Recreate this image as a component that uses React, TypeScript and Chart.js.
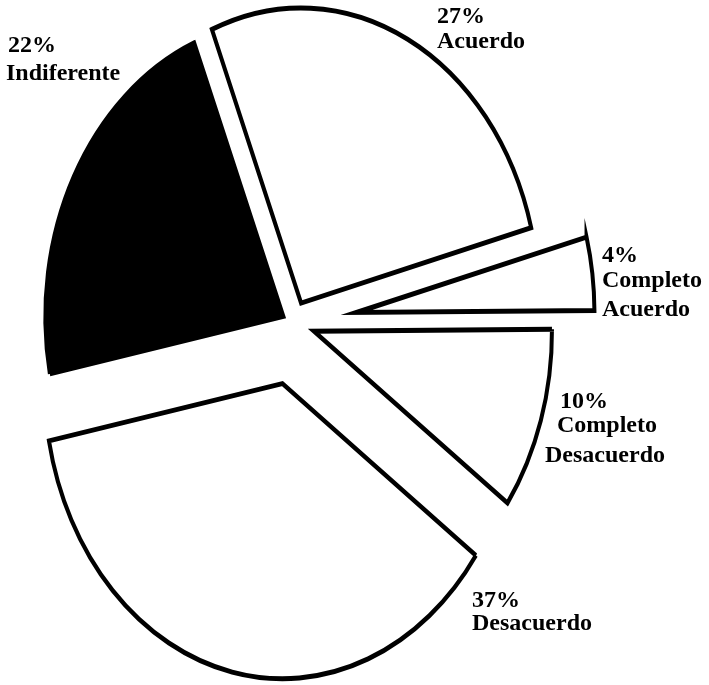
import React, { useEffect, useRef } from 'react';
import { Chart, registerables } from 'chart.js';

Chart.register(...registerables);

// ---- data ----
const categories: (string | string[])[] = [
  'Acuerdo',
  ['Completo', 'Acuerdo'],
  ['Completo', 'Desacuerdo'],
  'Desacuerdo',
  'Indiferente',
];
const percentages = [27, 4, 10, 37, 22];

// ---- style / layout ----
const fillColors = ['#ffffff', '#ffffff', '#ffffff', '#ffffff', '#000000'];
const W = 709;
const H = 685;
const START_ROTATION = -22; // degrees
const RADIUS = 238;
const Y_STRETCH = 1.24;
const EXPLODE = [18, 64, 22, 50, 11];
const LABEL_FONT = 'bold 24px "Liberation Serif", "Times New Roman", serif';
const LABEL_LAYOUT = [
  { x: [437, 437], y: [23, 48] },
  { x: [602, 602, 602], y: [262, 287, 316] },
  { x: [560, 557, 545], y: [408, 432, 462] },
  { x: [472, 472], y: [607, 630] },
  { x: [8, 6], y: [52, 80] },
];

const explodePlugin = {
  id: 'explodeSlices',
  afterDatasetsUpdate(chart: any) {
    const meta = chart.getDatasetMeta(0);
    meta.data.forEach((arc: any, i: number) => {
      const mid = (arc.startAngle + arc.endAngle) / 2;
      const d = EXPLODE[i] || 0;
      arc.x += Math.cos(mid) * d;
      arc.y += Math.sin(mid) * d;
    });
  },
};

const ellipsePlugin = {
  id: 'ellipseStretch',
  beforeDatasetsDraw(chart: any) {
    const { ctx, chartArea } = chart;
    const cx = (chartArea.left + chartArea.right) / 2;
    const cy = (chartArea.top + chartArea.bottom) / 2;
    ctx.save();
    ctx.translate(cx, cy);
    ctx.scale(1, Y_STRETCH);
    ctx.translate(-cx, -cy);
  },
  afterDatasetsDraw(chart: any) {
    chart.ctx.restore();
  },
};

const labelPlugin = {
  id: 'sliceLabels',
  afterDraw(chart: any) {
    const { ctx } = chart;
    const labels = chart.data.labels as (string | string[])[];
    const values = chart.data.datasets[0].data as number[];
    ctx.save();
    ctx.font = LABEL_FONT;
    ctx.fillStyle = '#000';
    ctx.textAlign = 'left';
    ctx.textBaseline = 'alphabetic';
    labels.forEach((lab, i) => {
      const lines = [`${values[i]}%`, ...(Array.isArray(lab) ? lab : [lab])];
      const lay = LABEL_LAYOUT[i];
      lines.forEach((t, j) => {
        ctx.fillText(t, lay.x[j], lay.y[j]);
      });
    });
    ctx.restore();
  },
};

export default function App() {
  const ref = useRef<HTMLCanvasElement | null>(null);
  useEffect(() => {
    if (!ref.current) return;
    const chart = new Chart(ref.current, {
      type: 'pie',
      data: {
        labels: categories as any,
        datasets: [
          {
            data: percentages,
            backgroundColor: fillColors,
            borderColor: '#000000',
            borderWidth: 4,
            borderJoinStyle: 'miter',
            radius: RADIUS,
            clip: false,
          } as any,
        ],
      },
      options: {
        responsive: false,
        animation: false,
        rotation: START_ROTATION,
        events: [],
        layout: { padding: { left: 0, right: 123, top: 0, bottom: 39 } },
        plugins: {
          legend: { display: false },
          tooltip: { enabled: false },
        },
      },
      plugins: [explodePlugin, ellipsePlugin, labelPlugin],
    });
    return () => chart.destroy();
  }, []);
  return (
    <div style={{ position: 'fixed', left: 0, top: 0, width: W, height: H, background: '#fff' }}>
      <canvas ref={ref} width={W} height={H} style={{ display: 'block' }} />
    </div>
  );
}
